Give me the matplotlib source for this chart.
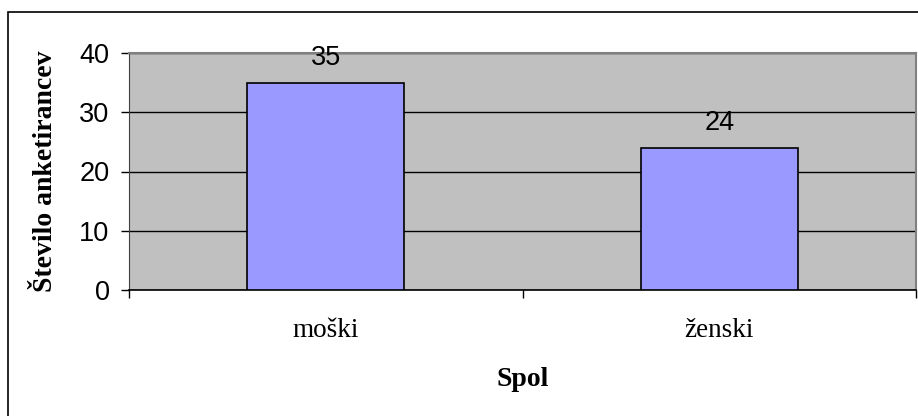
import matplotlib.pyplot as plt
from matplotlib.patches import Rectangle

categories = ["moški", "ženski"]
counts = [35, 24]
y_ticks = [0, 10, 20, 30, 40]

fig = plt.figure(figsize=(9.18, 4.16), dpi=100)

# outer chart frame (only left/top edges visible in the original)
frame = Rectangle((7.5 / 918, -0.1), 1.2, (416 - 11.5) / 416 + 0.1,
                  transform=fig.transFigure, fill=False,
                  edgecolor="black", linewidth=1.2, zorder=0)
fig.patches.append(frame)

ax = fig.add_axes([129 / 918, 1 - 290 / 416, 787 / 918, 237 / 416])
ax.set_facecolor("#C0C0C0")

x = list(range(len(categories)))
bars = ax.bar(x, counts, width=0.4, color="#9999FF", edgecolor="black",
              linewidth=1.2, zorder=3)

for xi, v in zip(x, counts):
    ax.annotate(str(v), (xi, v), xytext=(0, 18), textcoords="offset points",
                ha="center", va="center", fontsize=19.5, family="Liberation Sans")

ax.set_xlim(-0.5, len(categories) - 0.5)
ax.set_ylim(0, 40)
ax.set_yticks(y_ticks)
ax.set_yticklabels([str(t) for t in y_ticks], family="Liberation Sans", fontsize=19.5)
ax.yaxis.grid(True, color="black", linewidth=1.0, zorder=1)
ax.set_axisbelow(True)

ax.set_xticks(x)
ax.set_xticklabels(categories, family="Liberation Serif", fontsize=19.5)
ax.set_xticks([i - 0.5 for i in range(len(categories) + 1)], minor=True)
ax.tick_params(axis="x", which="major", length=0, pad=20)
ax.tick_params(axis="x", which="minor", length=6, width=1, color="black")
ax.tick_params(axis="y", length=6, width=1, pad=8)

for side in ["top", "right"]:
    ax.spines[side].set_color("#808080")
    ax.spines[side].set_linewidth(1.5)
ax.spines["left"].set_color("#404040")
ax.spines["bottom"].set_color("black")
ax.spines["bottom"].set_linewidth(1.2)

ax.set_xlabel("Spol", family="Liberation Serif", fontweight="bold", fontsize=20, va="center")
ax.set_ylabel("Število anketirancev", family="Liberation Serif", fontweight="bold",
              fontsize=20, va="center")
ax.xaxis.set_label_coords(0.5, (290 - 380) / 237)
ax.yaxis.set_label_coords((46 - 129) / 787, 0.5)

fig.savefig("out.png", dpi=100)
